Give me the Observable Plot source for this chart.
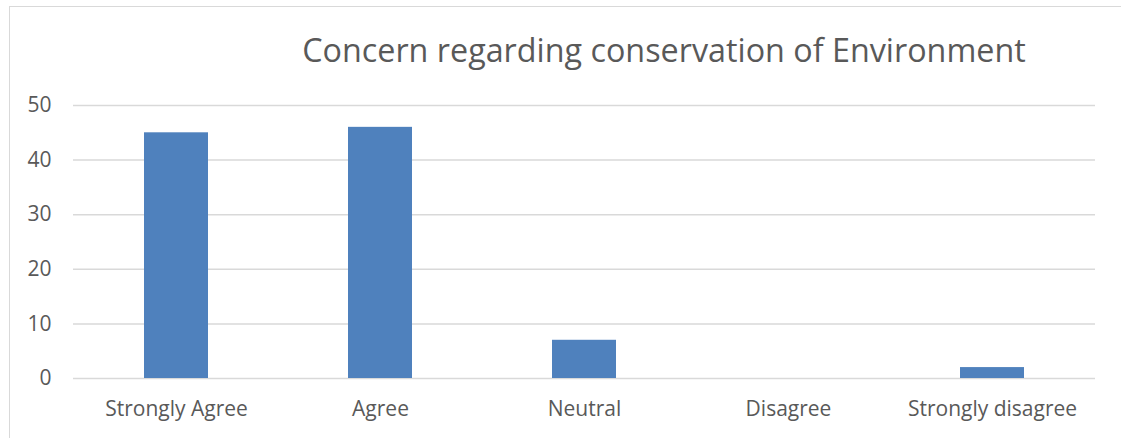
<!DOCTYPE html>
<html>
<head>
<meta charset="utf-8">
<script src="https://cdn.jsdelivr.net/npm/d3@7"></script>
<script src="https://cdn.jsdelivr.net/npm/@observablehq/plot@0.6"></script>
<style>
  html, body { margin: 0; padding: 0; background: #fff; }
  #wrap { position: relative; width: 1121px; height: 438px; overflow: hidden; font-family: "Open Sans", sans-serif; }
  #frame { position: absolute; left: 9px; top: 6px; width: 1200px; height: 500px; border: 1px solid #d9d9d9; box-sizing: border-box; }
  #title { position: absolute; left: 0; top: 0; width: 1121px; text-align: center; padding-left: 207px; box-sizing: border-box;
           font-size: 32.3px; color: #595959; line-height: 1; margin-top: 33px; white-space: nowrap; }
  #chart { position: absolute; left: 0; top: 0; }
</style>
</head>
<body>
<div id="wrap">
  <div id="frame"></div>
  <div id="chart"></div>
  <div id="title">Concern regarding conservation of Environment</div>
</div>
<script>
const categories = ["Strongly Agree", "Agree", "Neutral", "Disagree", "Strongly disagree"];
const values = [45, 46, 7, 0, 2];
const yTicks = [0, 10, 20, 30, 40, 50];

const data = categories.map((c, i) => ({category: c, value: values[i]}));

const chart = Plot.plot({
  width: 1121,
  height: 438,
  marginLeft: 73,
  marginRight: 26,
  marginTop: 105,
  marginBottom: 60,
  style: {fontFamily: "Open Sans, sans-serif", fontSize: "21px", color: "#595959", background: "transparent", overflow: "visible"},
  x: {domain: categories, paddingInner: 0.687, paddingOuter: 0.3435, label: null},
  y: {domain: [0, 50], label: null},
  marks: [
    Plot.ruleY(yTicks, {stroke: "#d9d9d9", strokeWidth: 1.5}),
    Plot.barY(data, {x: "category", y: "value", fill: "#4F81BD"}),
    Plot.axisY({ticks: yTicks, tickSize: 0, tickPadding: 22, fill: "#595959", fontSize: 21, label: null}),
    Plot.axisX({tickSize: 0, tickPadding: 23, fill: "#595959", fontSize: 21, label: null})
  ]
});
document.getElementById("chart").appendChild(chart);
</script>
</body>
</html>
